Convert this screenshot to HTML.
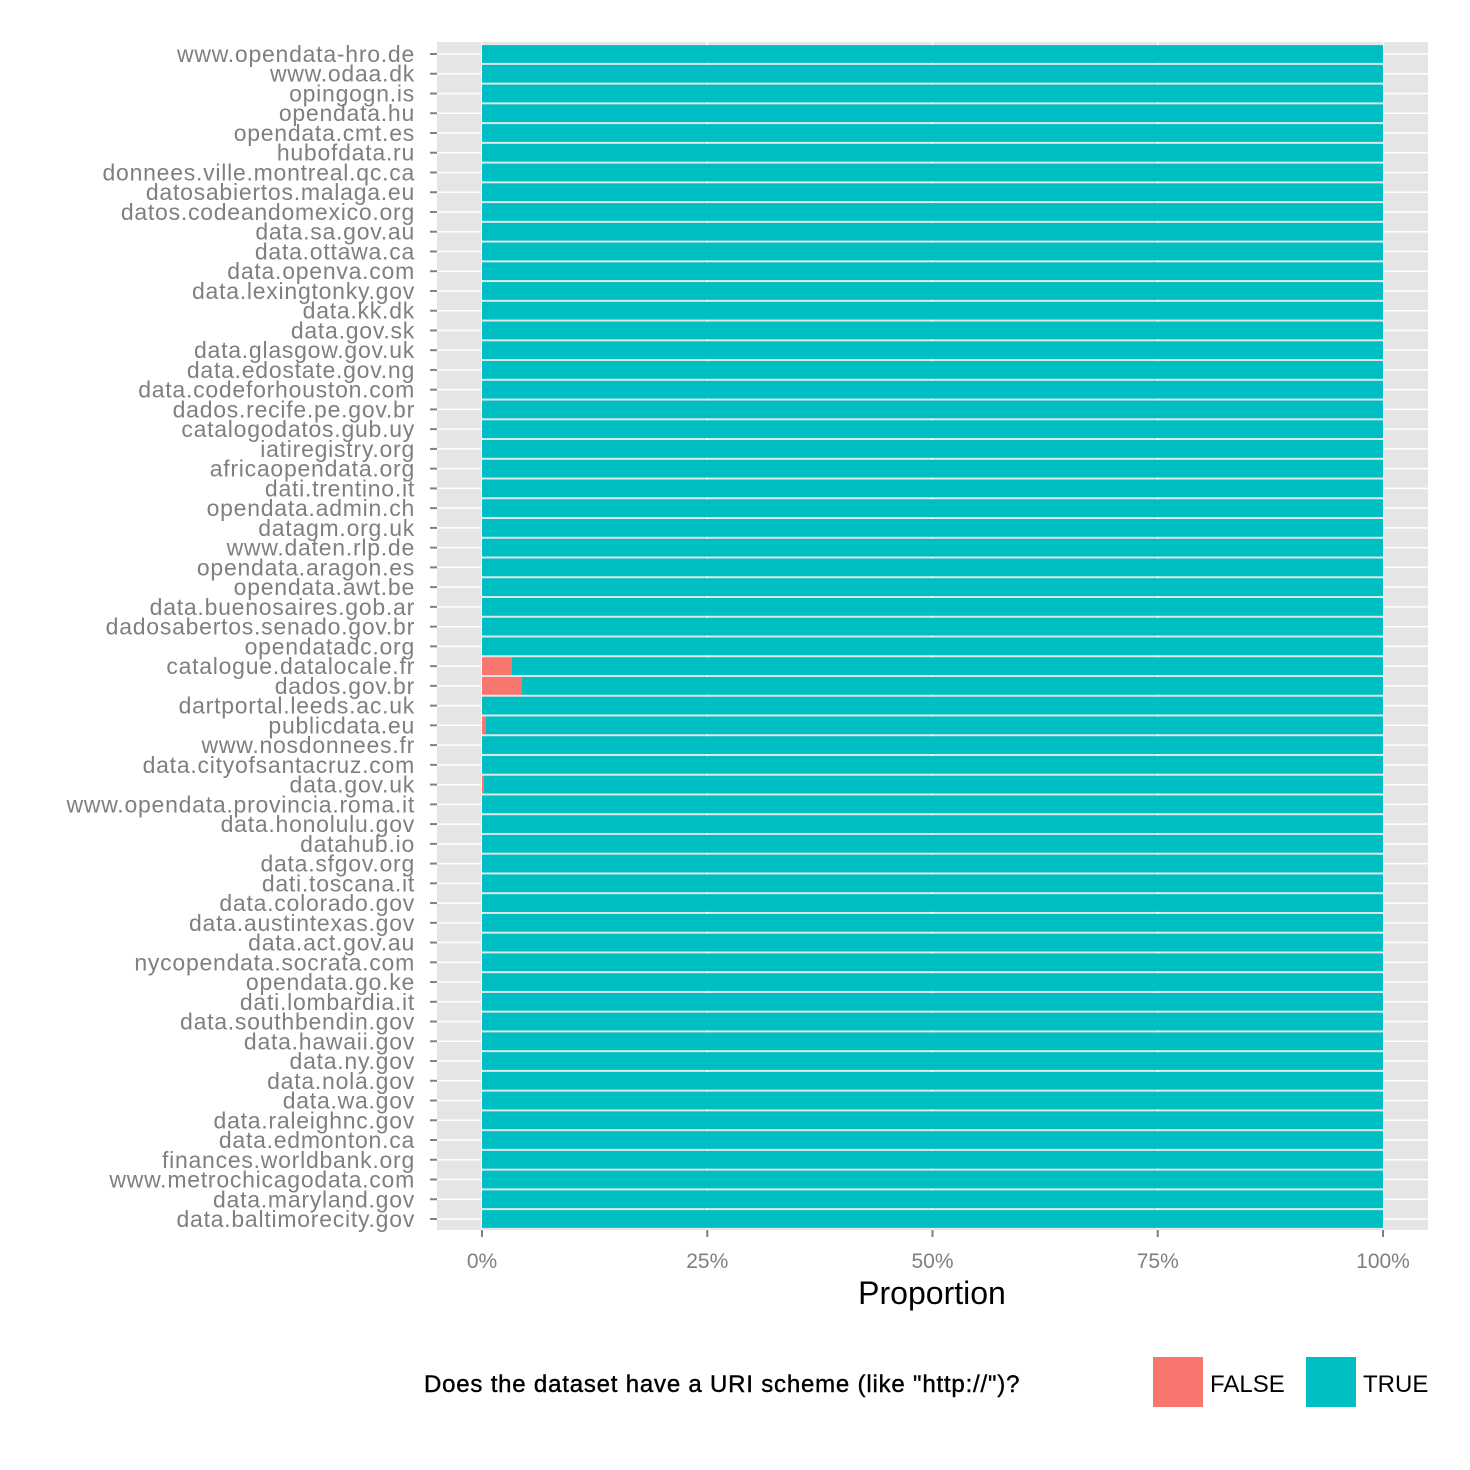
<!DOCTYPE html>
<html><head><meta charset="utf-8"><style>
html,body{margin:0;padding:0;background:#fff;width:1470px;height:1470px;overflow:hidden}
svg{font-family:"Liberation Sans",sans-serif}
</style></head><body>
<svg id="chart" width="1470" height="1470" xmlns="http://www.w3.org/2000/svg">
<rect x="437" y="42" width="991" height="1188" fill="#e5e5e5"/>
<g id="grid"></g><g id="bars"></g><g id="yaxis"></g><g id="xaxis"></g>
<text x="932" y="1304" font-size="32" text-anchor="middle" fill="#000">Proportion</text>
<g>
<text x="424" y="1392" font-size="24" letter-spacing="0.8" stroke="#000" stroke-width="0.4" fill="#000">Does the dataset have a URI scheme (like "http://")?</text>
<rect x="1153" y="1357" width="50" height="50" fill="#f8766d"/>
<text x="1210" y="1392" font-size="24" fill="#000">FALSE</text>
<rect x="1306" y="1357" width="50" height="50" fill="#00bfc4"/>
<text x="1363" y="1392" font-size="24" fill="#000">TRUE</text>
</g>
</svg>
<script>
const categories=["www.opendata-hro.de","www.odaa.dk","opingogn.is","opendata.hu","opendata.cmt.es","hubofdata.ru","donnees.ville.montreal.qc.ca","datosabiertos.malaga.eu","datos.codeandomexico.org","data.sa.gov.au","data.ottawa.ca","data.openva.com","data.lexingtonky.gov","data.kk.dk","data.gov.sk","data.glasgow.gov.uk","data.edostate.gov.ng","data.codeforhouston.com","dados.recife.pe.gov.br","catalogodatos.gub.uy","iatiregistry.org","africaopendata.org","dati.trentino.it","opendata.admin.ch","datagm.org.uk","www.daten.rlp.de","opendata.aragon.es","opendata.awt.be","data.buenosaires.gob.ar","dadosabertos.senado.gov.br","opendatadc.org","catalogue.datalocale.fr","dados.gov.br","dartportal.leeds.ac.uk","publicdata.eu","www.nosdonnees.fr","data.cityofsantacruz.com","data.gov.uk","www.opendata.provincia.roma.it","data.honolulu.gov","datahub.io","data.sfgov.org","dati.toscana.it","data.colorado.gov","data.austintexas.gov","data.act.gov.au","nycopendata.socrata.com","opendata.go.ke","dati.lombardia.it","data.southbendin.gov","data.hawaii.gov","data.ny.gov","data.nola.gov","data.wa.gov","data.raleighnc.gov","data.edmonton.ca","finances.worldbank.org","www.metrochicagodata.com","data.maryland.gov","data.baltimorecity.gov"];
const falseShare=categories.map(c=>({"catalogue.datalocale.fr":0.033,"dados.gov.br":0.044,"publicdata.eu":0.004,"data.gov.uk":0.002}[c]||0));
const xTicks=[0,0.25,0.5,0.75,1];
const xTickLabels=["0%","25%","50%","75%","100%"];
const NS="http://www.w3.org/2000/svg";
const x=v=>482+v*901;
const step=(1219-54)/(categories.length-1);
const y=i=>54+i*step;
const bh=step*0.9;
function mk(tag,attrs,parent,text){const e=document.createElementNS(NS,tag);for(const k in attrs)e.setAttribute(k,attrs[k]);if(text!=null)e.textContent=text;document.getElementById(parent).appendChild(e);return e;}
xTicks.forEach((t,i)=>{
 const g=mk('line',{x1:x(t),x2:x(t),y1:42,y2:1230,stroke:'#fff','stroke-width':1.5},'grid');
 
 
 const tk=mk('line',{x1:x(t),x2:x(t),y1:1230,y2:1237,stroke:'#7f7f7f','stroke-width':2},'xaxis');
 
 
 const lb=mk('text',{x:x(t),y:1268,'font-size':21,'text-anchor':'middle',fill:'#7f7f7f'},'xaxis',xTickLabels[i]);
 
 
});
categories.forEach((c,i)=>{
 const cy=y(i);
 const g=mk('line',{x1:437,x2:1428,y1:cy,y2:cy,stroke:'#fff','stroke-width':1.5},'grid');
 
 
 const f=falseShare[i];
 const r1=mk('rect',{x:x(0),y:cy-bh/2,width:x(f)-x(0),height:bh,fill:'#f8766d'},'bars');
 
 
 const r2=mk('rect',{x:x(f),y:cy-bh/2,width:x(1)-x(f),height:bh,fill:'#00bfc4'},'bars');
 
 
 const tk=mk('line',{x1:430,x2:437,y1:cy,y2:cy,stroke:'#7f7f7f','stroke-width':2},'yaxis');
 
 
 const lb=mk('text',{x:415,y:cy+8,'font-size':23,'letter-spacing':0.75,'text-anchor':'end',fill:'#7f7f7f'},'yaxis',c);
 
 
});
</script>
</body></html>
